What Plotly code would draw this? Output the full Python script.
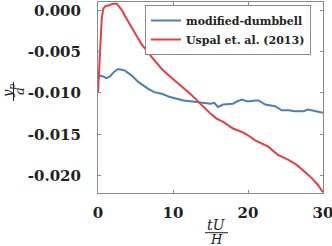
import plotly.graph_objects as go

# modified-dumbbell
t_blue = [0, 0.3, 0.7, 1.1, 1.6, 2.2, 2.7, 3.2, 3.6, 4.5, 5.4, 6.7, 7.5, 8.5, 9.6, 10.5,
          11.4, 12.3, 13.1, 14, 15, 15.5, 16, 16.7, 17.4, 18, 18.6, 19.2, 19.8, 20.3,
          21, 21.4, 22.3, 23, 23.6, 24.5, 25.4, 26.3, 27.4, 28, 28.9, 30]
y_blue = [-0.0083, -0.0079, -0.0080, -0.0082, -0.0080, -0.0074, -0.0071, -0.0072, -0.0073,
          -0.0079, -0.0087, -0.0095, -0.0099, -0.0101, -0.0105, -0.0107, -0.0109, -0.0110,
          -0.0111, -0.0112, -0.0113, -0.0112, -0.0117, -0.0114, -0.0113, -0.0113, -0.0110,
          -0.0108, -0.0110, -0.0110, -0.0109, -0.0109, -0.0114, -0.0115, -0.0116, -0.0121,
          -0.0121, -0.0122, -0.0122, -0.0120, -0.0122, -0.0124]

# Uspal et. al. (2013)
t_red = [0, 0.2, 0.35, 0.5, 0.7, 1.0, 1.5, 2.0, 2.5, 2.8, 3.2, 3.6, 4.5, 5.8, 7.2, 8.5,
         9.6, 10.3, 11, 12.3, 13.2, 14, 15, 15.8, 16.7, 18, 19.4, 20.3, 20.9, 22.7, 24,
         25.4, 26.5, 27.4, 28.5, 29.3, 30]
y_red = [-0.0099, -0.0060, -0.0030, -0.0010, 0.0002, 0.0005, 0.0006, 0.0008, 0.0008,
         0.0005, 0.0000, -0.0007, -0.0021, -0.0041, -0.0057, -0.0071, -0.0080, -0.0085,
         -0.0091, -0.0101, -0.0109, -0.0117, -0.0125, -0.0131, -0.0135, -0.0143, -0.0148,
         -0.0153, -0.0157, -0.0165, -0.0175, -0.0181, -0.0187, -0.0194, -0.0203, -0.0211,
         -0.0220]

x_ticks = [0, 10, 20, 30]
y_ticks = [0.0, -0.005, -0.010, -0.015, -0.020]
y_tick_labels = ["0.000", "-0.005", "-0.010", "-0.015", "-0.020"]

FONT = "DejaVu Serif"

fig = go.Figure()
fig.add_trace(go.Scatter(x=t_blue, y=y_blue, mode="lines", name="<b>modified-dumbbell</b>",
                         line=dict(color="#4A7EBB", width=2)))
fig.add_trace(go.Scatter(x=t_red, y=y_red, mode="lines", name="<b>Uspal et. al. (2013)</b>",
                         line=dict(color="#EC3B3F", width=2)))

axis_common = dict(showgrid=False, zeroline=False, showline=True, linecolor="#8a8a8a",
                   linewidth=1, mirror="ticks", ticks="inside", ticklen=3,
                   tickcolor="#8a8a8a", automargin=False, ticklabeloverflow="allow",
                   tickfont=dict(family=FONT, size=15, color="#222222"))

fig.update_xaxes(range=[0, 30], tickvals=x_ticks, ticktext=[f"<b>{v}</b>" for v in x_ticks],
                 ticklabelstandoff=6, **axis_common)
fig.update_yaxes(range=[-0.0221, 0.001], tickvals=y_ticks,
                 ticktext=[f"<b>{s}</b>" for s in y_tick_labels], ticklabelstandoff=13,
                 **axis_common)

L, R, T, B = 98, 9, 2, 53
W, H = 332, 246
ph = H - T - B
pw = W - L - R

def py(p):
    return (H - B - p) / ph

def px(p):
    return (p - L) / pw

common_ann = dict(xref="paper", yref="paper", showarrow=False,
                  xanchor="center", yanchor="middle")
f14 = dict(family=FONT, size=14, color="#222222")
f13 = dict(family=FONT, size=13, color="#222222")
annotations = [
    dict(text="<i>tU</i>", x=px(216), y=py(225), font=f14, **common_ann),
    dict(text="<i>H</i>", x=px(216), y=py(239.5), font=f13, **common_ann),
    dict(text="<i>y<sub>p</sub></i>", x=px(8), y=py(91), textangle=-90, font=f13, **common_ann),
    dict(text="<i>a</i>", x=px(19), y=py(91), textangle=-90, font=f13, **common_ann),
]
shapes = [
    dict(type="line", xref="paper", yref="paper", x0=px(205), x1=px(228), y0=py(232.7), y1=py(232.7),
         line=dict(color="#222222", width=1)),
    dict(type="line", xref="paper", yref="paper", x0=px(13.5), x1=px(13.5), y0=py(82), y1=py(101),
         line=dict(color="#222222", width=1)),
]

fig.update_layout(
    width=W, height=H,
    margin=dict(l=L, r=R, t=T, b=B),
    paper_bgcolor="white", plot_bgcolor="white",
    showlegend=True,
    legend=dict(x=px(145), y=py(5), xanchor="left", yanchor="top",
                bgcolor="white", bordercolor="#8a8a8a", borderwidth=1,
                font=dict(family=FONT, size=11, color="#222222"),
                tracegroupgap=0, itemwidth=30),
    annotations=annotations, shapes=shapes,
)

fig.write_html("out.html", config={"displayModeBar": False},
               post_script="document.body.style.margin='0';")
